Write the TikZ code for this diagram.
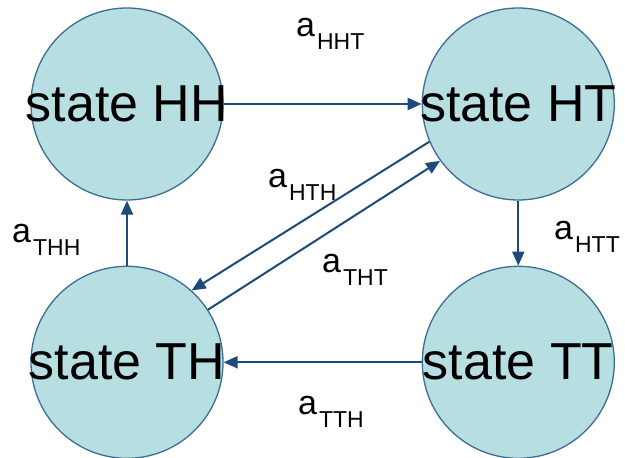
\documentclass[tikz,border=0pt]{standalone}
\usepackage{fontspec}
\setmainfont{Liberation Sans}
\usepackage{tikz}
\usetikzlibrary{positioning,arrows.meta}
\definecolor{statefill}{HTML}{B7DEE1}
\definecolor{stateline}{HTML}{3C6E95}
\definecolor{trans}{HTML}{1D4A7B}
\tikzset{
  state/.style={circle,draw=stateline,fill=statefill,line width=1.3pt,
    minimum size=192pt,inner sep=0pt,font=\fontsize{52}{52}\selectfont},
  tr/.style={-{Triangle[length=14pt,width=12pt]},draw=trans,line width=2pt},
  lab/.style={anchor=base west,inner sep=0pt,font=\fontsize{34}{34}\selectfont},
}
\newcommand{\statename}[1]{\makebox[0pt]{state #1}}
\newcommand{\sublab}[1]{\kern2pt\raisebox{-12.5pt}{\fontsize{23}{23}\selectfont#1}}

\begin{document}
\begin{tikzpicture}[x=1pt,y=1pt]
  \useasboundingbox (0,0) rectangle (625,458);
  \node[state] at (127,354) (hh) {\statename{HH}};
  \node[state,right=198pt of hh] (ht) {\statename{HT}};
  \node[state,below=65pt of hh] (th) {\statename{TH}};
  \node[state,below=65pt of ht] (tt) {\statename{TT}};
  \draw[tr] (hh) -- (ht); \draw[tr] (ht) -- (tt); \draw[tr] (tt) -- (th); \draw[tr] (th) -- (hh);
  \draw[tr] (ht.203) -- (th.48);
  \draw[tr] (th.33) -- (ht.216);
  % transition labels
  \node[lab] (hht) at (296,421) {a\sublab{HHT}};
  \node[lab] (hth) at (268,270) {a\sublab{HTH}};
  \node[lab] (tht) at (322,185) {a\sublab{THT}};
  \node[lab] (thh) at (12,215) {a\sublab{THH}};
  \node[lab] (htt) at (554,218) {a\sublab{HTT}};
  \node[lab] (tth) at (298,43) {a\sublab{TTH}};
\end{tikzpicture}
\end{document}
